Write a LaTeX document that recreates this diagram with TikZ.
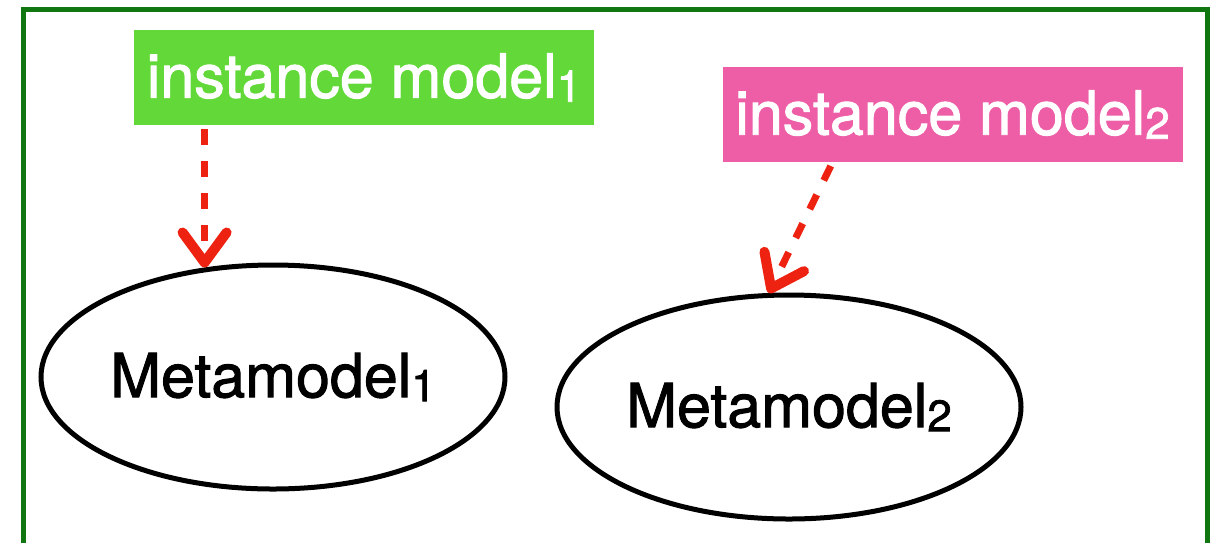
\documentclass[tikz,border=0pt]{standalone}
\usepackage{fontspec}
\setmainfont{TeX Gyre Heros}[FakeBold=1.6]
\usetikzlibrary{positioning,arrows.meta,shapes.geometric}
\definecolor{framegreen}{RGB}{16,118,16}
\definecolor{instgreen}{RGB}{99,217,57}
\definecolor{instpink}{RGB}{238,94,166}
\definecolor{confred}{RGB}{238,34,17}
\newcommand{\modelidx}[1]{\raisebox{-2pt}{\fontsize{22pt}{22pt}\selectfont #1}}

\begin{document}
\begin{tikzpicture}[x=0.5pt,y=-0.5pt,
			inst/.style={rectangle,text=white,minimum width=230pt,minimum height=47.5pt,inner sep=0pt,
				font=\fontsize{30.5pt}{30.5pt}\selectfont},
			meta/.style={draw,ellipse,line width=2.5pt,minimum width=232pt,minimum height=112pt,inner sep=0pt,
				font=\fontsize{30.5pt}{30.5pt}\selectfont},
			conf/.style={draw=confred,line width=3.5pt,dash pattern=on 8pt off 8pt,dash phase=14pt,
				-{Straight Barb[length=15pt,width=22pt,line width=5pt 0,round]}}]
			\useasboundingbox (0,0) rectangle (1214,542);
			\clip (0,0) rectangle (1214,542);
			\draw [framegreen,line width=2.5pt] (23,9) rectangle (1207,620);
			\node (mm1) [meta] at (273,377) {Metamodel\modelidx{1}};
			\node (mm2) [meta] at (789,407) {Metamodel\modelidx{2}};
			\node (im1) [inst,fill=instgreen] at (364,77.5) {instance model\modelidx{1}};
			\node (im2) [inst,fill=instpink] at (952.5,114.5) {instance model\modelidx{2}};
			\draw [conf] (im1.south -| mm1.122) -- (mm1.122);
			\draw [conf] ([xshift=-60pt]im2.south) -- (mm2.100);
		\end{tikzpicture}
\end{document}
